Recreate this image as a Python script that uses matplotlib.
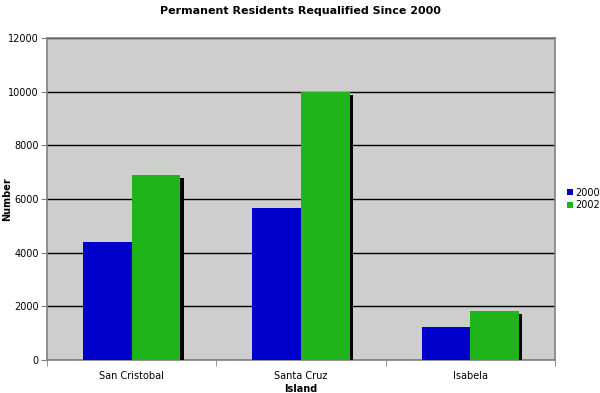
import numpy as np
import matplotlib
matplotlib.use("Agg")
import matplotlib.pyplot as plt
import matplotlib.patheffects as pe
from matplotlib.patches import Patch

islands = ["San Cristobal", "Santa Cruz", "Isabela"]
series_names = ["2000", "2002"]
values_2000 = [4400, 5650, 1230]
values_2002 = [6900, 9990, 1830]

colors = ["#0000cc", "#1fb51a"]

fig = plt.figure(figsize=(6.0, 3.93), dpi=100)
ax = fig.add_axes([47 / 600, 33 / 393, 508 / 600, 322 / 393])
ax.set_facecolor("#cecece")

x = np.arange(len(islands))
w = 0.287
shadow = [pe.SimplePatchShadow(offset=(2.5, -2.5), shadow_rgbFace="black", alpha=1.0), pe.Normal()]
for i, (vals, c) in enumerate(zip([values_2000, values_2002], colors)):
    ax.bar(x + (i - 0.5) * w, vals, width=w, color=c, path_effects=shadow, zorder=3)

ax.set_xlim(-0.5, 2.5)
ax.set_ylim(0, 12000)
ax.set_yticks(range(0, 12001, 2000))
ax.yaxis.grid(True, color="black", linewidth=1.0, zorder=1)
ax.set_axisbelow(True)

ax.set_xticks(x)
ax.set_xticklabels(islands, fontsize=7)
ax.set_xticks([-0.5, 0.5, 1.5, 2.5], minor=True)
ax.tick_params(axis="x", which="major", length=0, pad=8)
ax.tick_params(axis="x", which="minor", length=4, color="#808080")
ax.tick_params(axis="y", labelsize=7, length=4, color="#808080", pad=2)

for s in ax.spines.values():
    s.set_color("#808080")
    s.set_linewidth(1.2)

ax.set_xlabel("Island", fontsize=7, fontweight="bold", labelpad=2)
ax.set_ylabel("Number", fontsize=7, fontweight="bold")
ax.yaxis.set_label_coords(-0.068, 0.5)
fig.suptitle("Permanent Residents Requalified Since 2000", fontsize=8, fontweight="bold", y=0.985)

handles = [Patch(facecolor=c, label=n) for c, n in zip(colors, series_names)]
ax.legend(handles=handles, loc="center left", bbox_to_anchor=(1.01, 0.5), frameon=False, fontsize=7,
          handlelength=0.6, handleheight=0.6, handletextpad=0.3, labelspacing=0.3, borderpad=0.2)

fig.savefig("out.png", dpi=100)
